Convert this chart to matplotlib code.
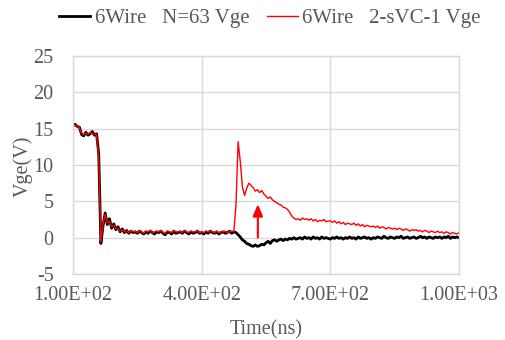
import numpy as np
import matplotlib
matplotlib.use("Agg")
import matplotlib.pyplot as plt

# time axis (ns), 5 ns sampling
time_ns = np.arange(100, 1001, 5)

black_vge = [
    15.4, 15.6, 15.3, 15.2, 14.2, 14.0, 14.5, 14.1, 14.3, 14.6,
    14.1, 14.3, 11.5, -0.8, 1.6, 3.4, 1.8, 2.6, 1.3, 1.9,
    1.1, 1.5, 0.8, 1.2, 0.7, 1.0, 0.6, 0.9, 0.7, 0.8,
    0.6, 0.9, 0.7, 0.5, 0.8, 0.6, 0.9, 0.7, 0.5, 0.8,
    0.7, 0.9, 0.6, 0.4, 0.8, 0.7, 0.5, 0.9, 0.6, 0.7,
    0.8, 0.6, 0.9, 0.7, 0.5, 0.8, 0.6, 0.7, 0.9, 0.6,
    0.7, 0.5, 0.8, 0.6, 0.9, 0.7, 0.6, 0.8, 0.5, 0.7,
    0.8, 0.6, 0.7, 0.9, 0.6, 0.8, 0.7, 0.4, 0.1, -0.3,
    -0.5, -0.8, -0.9, -1.1, -1.2, -1.0, -1.2, -1.1, -0.9, -1.0,
    -0.7, -0.5, -0.8, -0.4, -0.3, -0.5, -0.3, -0.2, -0.4, -0.2,
    -0.3, -0.1, -0.2, 0.0, -0.2, -0.1, 0.0, -0.2, 0.1, -0.1,
    0.0, -0.2, 0.1, -0.1, 0.0, -0.2, 0.1, -0.1, 0.0, -0.1,
    -0.2, 0.0, -0.1, 0.1, -0.1, 0.0, -0.2, 0.0, -0.1, 0.1,
    -0.1, 0.0, -0.2, 0.1, -0.1, 0.0, 0.1, -0.1, 0.0, -0.2,
    0.0, -0.1, 0.1, 0.0, -0.1, 0.2, 0.0, -0.1, 0.1, 0.0,
    -0.1, 0.1, 0.0, 0.2, -0.1, 0.0, 0.1, -0.1, 0.0, 0.1,
    -0.1, 0.0, 0.2, 0.0, 0.1, -0.1, 0.1, 0.0, -0.1, 0.1,
    0.0, 0.1, -0.1, 0.1, 0.0, 0.2, -0.1, 0.1, 0.0, 0.1,
    0.0,
]

red_vge = [
    15.3, 15.5, 15.4, 15.1, 14.3, 14.2, 14.4, 14.2, 14.5, 14.3,
    14.2, 14.2, 11.0, -0.6, 1.8, 3.2, 2.0, 2.3, 1.5, 1.7,
    1.2, 1.3, 0.9, 1.1, 0.8, 1.0, 0.7, 1.0, 0.8, 0.9,
    0.7, 1.0, 0.8, 0.6, 0.9, 0.8, 1.0, 0.7, 0.8, 0.9,
    0.8, 1.0, 0.7, 0.6, 0.9, 0.8, 0.7, 1.0, 0.8, 0.8,
    0.9, 0.7, 1.0, 0.8, 0.7, 0.9, 0.8, 0.8, 1.0, 0.7,
    0.8, 0.7, 0.9, 0.8, 1.0, 0.8, 0.7, 0.9, 0.7, 0.8,
    0.8, 0.9, 0.7, 0.8, 0.9, 0.8, 4.5, 13.2, 10.5, 7.0,
    5.8, 6.8, 7.5, 7.2, 6.9, 6.4, 6.6, 6.2, 6.5, 6.0,
    5.7, 5.4, 5.6, 5.2, 5.0, 4.8, 4.6, 4.5, 4.2, 4.1,
    3.9, 3.5, 3.0, 2.7, 2.5, 2.6, 2.4, 2.7, 2.5, 2.6,
    2.4, 2.6, 2.3, 2.5, 2.2, 2.4, 2.3, 2.5, 2.2, 2.3,
    2.3, 2.1, 2.3, 2.0, 2.2, 1.9, 2.1, 1.8, 2.0, 1.9,
    1.8, 2.0, 1.7, 1.9, 1.6, 1.8, 1.5, 1.7, 1.6, 1.5,
    1.6, 1.4, 1.6, 1.3, 1.5, 1.4, 1.2, 1.4, 1.3, 1.2,
    1.3, 1.1, 1.3, 1.2, 1.0, 1.2, 1.1, 0.9, 1.1, 1.0,
    1.1, 0.9, 1.0, 0.8, 1.0, 0.9, 0.7, 0.9, 0.8, 0.7,
    0.9, 0.7, 0.8, 0.6, 0.8, 0.7, 0.5, 0.7, 0.6, 0.5,
    0.7,
]

series_labels = ["6Wire   N=63 Vge", "6Wire   2-sVC-1 Vge"]
x_ticks = [100, 400, 700, 1000]
x_tick_labels = ["1.00E+02", "4.00E+02", "7.00E+02", "1.00E+03"]
y_ticks = [-5, 0, 5, 10, 15, 20, 25]
arrow_t = 531
arrow_from, arrow_to = 0.0, 4.6

plt.rcParams['font.family'] = ['Liberation Serif', 'DejaVu Serif']
plt.rcParams['axes.unicode_minus'] = False
txt = '#595959'
grid_c = '#d9d9d9'
fs = 14.5

fig = plt.figure(figsize=(5.06, 3.40), dpi=100)
ax = fig.add_axes([73/506, 1-274/340, (459-73)/506, (274-56)/340])

ax.plot(time_ns, black_vge, color='black', lw=2.0, label=series_labels[0])
ax.plot(time_ns, red_vge, color='#ff0000', lw=1.0, label=series_labels[1])

ax.annotate('', xy=(arrow_t, arrow_to), xytext=(arrow_t, arrow_from),
            arrowprops=dict(arrowstyle='-|>,head_length=0.7,head_width=0.3',
                            color='#ff0000', lw=1.5, shrinkA=0, shrinkB=0))

ax.set_xlim(100, 1000)
ax.set_ylim(-5, 25)
ax.set_xticks(x_ticks)
ax.set_xticklabels(x_tick_labels)
ax.set_yticks(y_ticks)
ax.grid(True, color=grid_c, lw=1)
ax.set_axisbelow(True)
for s in ax.spines.values():
    s.set_color(grid_c)
    s.set_linewidth(1)
ax.tick_params(length=0, labelsize=fs, colors=txt)
ax.tick_params(axis='y', pad=14)
ax.tick_params(axis='x', pad=9)

fig.text(23/506, 1-166/340, 'Vge(V)', rotation=90, ha='center', va='center',
         fontsize=fs, color=txt)
fig.text(266/506, 1-330/340, 'Time(ns)', ha='center', va='center',
         fontsize=fs, color=txt)

leg = fig.legend(loc='center', bbox_to_anchor=(270/506, 1-18/340), ncol=2,
                 frameon=False, fontsize=15, handlelength=1.5,
                 handletextpad=0.2, columnspacing=0.85)
for t in leg.get_texts():
    t.set_color(txt)

fig.savefig('out.png', dpi=100)
